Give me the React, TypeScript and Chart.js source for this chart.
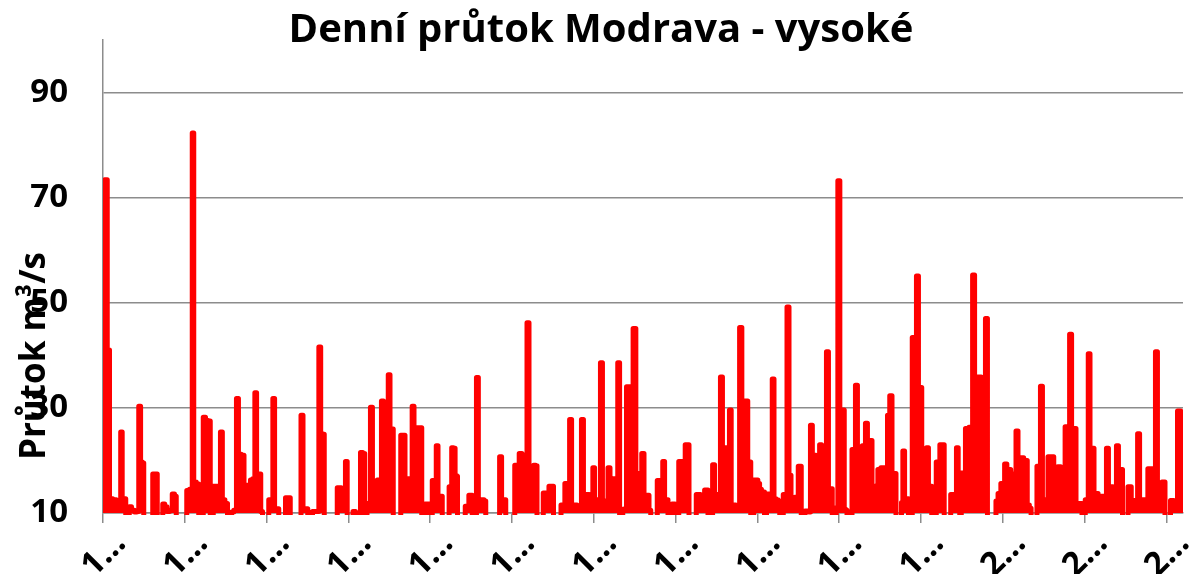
import React, { useEffect, useRef } from 'react';
import { Chart, registerables } from 'chart.js';

Chart.register(...registerables);

const chartTitle = 'Denní průtok Modrava - vysoké';
const yAxisTitle = 'Průtok m³/s';
const yTickValues = [10, 30, 50, 70, 90];
const xTickLabels = ['1…', '1…', '1…', '1…', '1…', '1…', '1…', '1…', '1…', '1…', '1…', '2…', '2…', '2…'];
const X_TICK_STEP = 81.8;
const X_MAX = 1080;
const Y_MIN = 10;
const Y_MAX = 100;

// [position along the record, daily flow m3/s]
const flowPoints: Array<[number, number]> = [
  [0,22.5],[3,73.4],[5.5,41],[7.5,12.7],[12,12.5],[14.5,10.8],[17,10.5],[18.4,25.4],[20,12.7],[22,12.7],[23.5,5],
  [25.5,5],[27,11.2],[30,10.5],[33,10.2],[34.8,10.3],[36.7,30.3],[38.5,19.7],[40,19.5],[41.5,5],
  [49,5],[50.5,17.4],[53.5,17.4],[55,5],
  [59,5],[60.5,11.7],[63,11.2],[65,10.3],[68,10.5],[70.5,13.6],[72.5,13.2],[74,5],
  [83,5],[84.5,14.3],[88.5,14.5],[90,82.3],[91.5,15.9],[95,15.5],[96.5,5],
  [99.5,5],[101,28.2],[104,27.6],[106.5,27.5],[108,5],
  [109.5,5],[111,15.1],[113.5,15.1],[116.5,15.1],[118.4,25.4],[120.3,12.5],[123.5,11.8],[125.5,5],
  [128,5],[129,10.2],[132.5,10.5],[134.4,31.8],[136.5,21.2],[140,21],[142,15.3],[145,15.3],[146.5,10.5],[148.4,16.3],[151,16.5],[152.7,32.9],[154.5,17.4],[157,17.4],[158.5,10.3],[160.5,5],
  [165,5],[166.5,12.5],[169,12.5],[170.7,31.8],[172.5,10.8],[175,10.8],[176.5,5],
  [182,5],[183,12.9],[186.5,12.9],[188,5],
  [197,5],[199,28.6],[201,10.8],[204,10.8],[205.5,5],
  [209,5],[210,10.3],[215,10.3],[216.7,41.6],[218.7,25.1],[220.5,25],[222,5],
  [233.5,5],[235,14.8],[237.5,14.8],[239,12.4],[241.5,12.4],[243.4,19.8],[245,5],
  [249.5,5],[250.5,10.3],[252,10.3],[253,5],
  [256.5,5],[258.5,21.5],[261,21.3],[262.5,5],
  [263.5,5],[264.5,11.8],[266.5,11.8],[268.4,30.1],[270.5,11.8],[273.5,11.8],[275,16.3],[277.5,16.3],[279.4,31.3],[281.5,14],[284.5,14],[286,36.3],[288,26],[289.5,26],[291,5],
  [297,5],[298.5,24.8],[301,24.8],[303,16.5],[308.3,16.5],[310,30.3],[312,26.2],[318,26.2],[319.5,5],
  [321.5,5],[322.5,11.7],[325.5,11.7],[327,5],
  [328.5,5],[330,16.2],[332.5,16.2],[334,22.8],[336,13.2],[338.5,13.2],[340,5],
  [345.5,5],[346.7,15],[348,15],[349.4,22.4],[351.5,22.3],[352.7,17.2],[354,17],[355,5],
  [361.5,5],[363,11.3],[365,11.3],[366.7,13.4],[368.5,13.4],[370,5],
  [372.5,5],[374.4,35.8],[376.3,12.4],[380,12.5],[382,12.3],[383.5,5],
  [395.5,5],[397.7,20.7],[399.5,12.5],[402,12.5],[403.5,5],
  [411,5],[412.5,19.1],[415,19.1],[417.4,21.3],[420.5,21],[423,16],[425,46.2],[427,15.9],[429.5,15.9],[431.7,19.1],[433.5,19],[434.5,5],
  [439.5,5],[441,13.8],[444.5,13.8],[447.4,15.1],[450,15.1],[451,5],
  [457.5,5],[458.5,11.5],[461,11.5],[462.7,15.6],[465.5,15.6],[467.7,27.8],[469.5,11.5],[473,11.5],[475,10.8],[477.5,10.8],[479.4,27.8],[481.5,13.5],[485,13.5],[487.5,13],[489,13],[490.7,18.6],[492.5,12.5],[496.5,12.5],[498.4,38.6],[500.5,12.3],[504,12.3],[506,18.6],[508,12.5],[511.5,16.5],[513.8,16.5],[515.7,38.6],[517.5,5],
  [519,5],[520.5,10.7],[523,10.8],[524,34],[528.5,34],[531.7,45.1],[534,17.5],[537.5,17.5],[540,21.3],[542,13.4],[545,13.4],[547,10.5],[548.5,5],
  [553.5,5],[555,16.2],[558.8,16.2],[560.7,19.8],[562.5,12.5],[564.5,12.5],[565.5,5],
  [568.5,5],[569.5,11.7],[571.5,11.7],[572.5,5],
  [575,5],[576.5,19.8],[581,19.8],[583.4,23],[585.5,23],[586.5,5],
  [592.5,5],[594,13.5],[596.5,13.5],[598.4,10.6],[600.5,10.6],[602.7,14.4],[604.5,14.4],[605.5,5],
  [608.5,5],[610.7,19.2],[612.5,13.5],[614.5,13.5],[616.5,13],[618.4,35.9],[620.5,22.4],[625.5,22.4],[627.4,29.6],[629,11.5],[632,11.5],[633.5,10.5],[635.5,10.5],[637.7,45.3],[640,31.3],[644,31.3],[645.5,19.7],[647,19.7],[648.5,5],
  [650,5],[651.5,16.3],[654,16.3],[655.7,15.6],[657.5,14.5],[659.4,14],[661,14],[662,5],
  [663,5],[664,13.6],[668.5,13.6],[670,35.5],[672,12.7],[674,12.5],[676,12.3],[677.5,5],
  [679.5,5],[681,13.5],[683,13.5],[685,49.2],[687,17.2],[689,12.3],[691,12.3],[692.7,13],[694.5,13],[696,18.9],[697.5,18.9],[699,5],
  [701.5,5],[702.5,10.4],[705,10.4],[706.5,10.2],[708.4,26.7],[710.3,21],[712.3,21],[713.5,18.4],[715.5,18.4],[717.7,23],[719.5,15.5],[722.5,15.5],[724.4,40.7],[726.5,14.6],[728.5,14.6],[730,5],
  [732.5,5],[734,11],[735.7,73.2],[738,29.6],[740.5,29.6],[742,10.7],[743.5,10.5],[744.5,5],
  [748.5,5],[749.5,22.1],[751.5,22.1],[753.4,34.3],[755.5,21.6],[758.5,21.6],[760,22.8],[761.5,22.8],[763.4,27.1],[765.5,23.8],[768,23.8],[770,15.1],[771.5,15.1],[772.7,10.8],[774,10.8],[775.7,18.3],[780,18.6],[783.5,18.6],[785.5,28.6],[788,32.3],[790,17.5],[792.5,17.5],[793.5,5],
  [798,5],[799,12],[800.7,21.8],[802.5,12.7],[805,12.7],[806,5],
  [808.5,5],[810,43.4],[812.5,43.4],[814.4,55.1],[816.5,33.9],[818,33.9],[819.5,15.9],[822.5,16.5],[824.4,22.4],[826.5,15.1],[828,15.1],[829.5,5],
  [832.5,5],[834,19.7],[836,19.7],[837.7,23],[840.4,23],[842,5],
  [847,5],[848.4,13.5],[852.5,13.5],[854.4,22.4],[856,12],[857.5,5],
  [859,17.6],[861.5,17.6],[863.4,26.1],[868.5,26.3],[870.7,55.3],[872.5,35.9],[877.4,35.9],[879,28.6],[881.5,28.6],[883.4,47],[885.5,5],
  [892.5,5],[893.4,12.3],[896.7,13.7],[899,15.6],[900.5,15.6],[902.7,19.3],[905,18.3],[907,18.3],[908.4,14.6],[910,17.4],[912,17.4],[914,25.6],[916,20.5],[919,20.5],[922.4,20],[923.5,20],[925,11.5],[927.7,10.9],[928.5,5],
  [933.5,5],[934.4,18.9],[936.5,18.9],[938.4,34.1],[940.5,12.5],[944,12.5],[946,20.7],[950,20.7],[951.5,16.2],[953.5,16.2],[956,18.8],[959.4,18.6],[961.5,18.6],[962.7,26.4],[965.5,26.4],[967.7,44],[969.5,26.1],[972.5,26.1],[973.5,11.8],[978.5,11.8],[979.5,5],
  [981.5,5],[983,12.5],[984.5,12.5],[986,40.3],[988,22.3],[990.5,22.3],[991.5,13.7],[993.5,13.7],[996.7,13],[1000,13.2],[1002.5,13.2],[1004.4,22.3],[1006.5,15],[1009,15],[1011,12.8],[1012.5,12.8],[1014.4,22.8],[1016.5,18.3],[1019,18.3],[1020,5],
  [1024.5,5],[1025.5,15],[1027.5,15],[1029,12.4],[1033.5,12.4],[1035.7,25.1],[1037.5,12.5],[1044,12.5],[1045.7,18.4],[1051.5,18.4],[1053.4,40.7],[1055.5,10.8],[1058,10.8],[1060,15.9],[1061.5,15.9],[1062.5,5],
  [1067,5],[1068,12.4],[1070,12.4],[1071.5,10.8],[1073.5,10.8],[1075.5,29.4],[1077,29.4],[1078.5,15.3],[1080,15.3],
];

const FONT = '"Open Sans", "DejaVu Sans", sans-serif';
const GRID_COLOR = '#8c8c8c';

export default function App() {
  const ref = useRef<HTMLCanvasElement | null>(null);

  useEffect(() => {
    const canvas = ref.current;
    if (!canvas) return;

    const textPlugin = {
      id: 'customTexts',
      afterDraw(chart: any) {
        const ctx = chart.ctx as CanvasRenderingContext2D;
        ctx.save();
        ctx.fillStyle = '#000';
        ctx.textBaseline = 'alphabetic';

        ctx.font = `bold 40px ${FONT}`;
        ctx.textAlign = 'center';
        ctx.fillText(chartTitle, 601, 42);

        ctx.save();
        ctx.translate(45, 356);
        ctx.rotate(-Math.PI / 2);
        ctx.font = `bold 35px ${FONT}`;
        ctx.textAlign = 'center';
        ctx.fillText(yAxisTitle, 0, 0);
        ctx.restore();

        const xs = chart.scales.x;
        ctx.font = `bold 33px ${FONT}`;
        ctx.textAlign = 'left';
        xs.ticks.forEach((t: any, i: number) => {
          const px = xs.getPixelForValue(t.value);
          ctx.save();
          ctx.translate(px - 9, 578);
          ctx.rotate(-Math.PI / 4);
          ctx.fillText(xTickLabels[i] ?? '', 0, 0);
          ctx.restore();
        });
        ctx.restore();
      },
    };

    const chart = new Chart(canvas, {
      type: 'line',
      data: {
        datasets: [
          {
            label: 'Průtok',
            data: flowPoints.map(([x, y]) => ({ x, y })),
            borderColor: '#ff0000',
            backgroundColor: '#ff0000',
            fill: 'start',
            borderWidth: 5,
            pointRadius: 0,
            tension: 0,
            stepped: 'middle',
            borderJoinStyle: 'round',
            borderCapStyle: 'round',
            clip: { left: 0, top: 0, right: 0, bottom: 2 } as any,
          },
        ],
      },
      options: {
        animation: false,
        responsive: false,
        devicePixelRatio: 1,
        layout: { padding: { top: 40, right: 13, bottom: 0, left: 0 } },
        plugins: {
          legend: { display: false },
          title: { display: false },
          tooltip: { enabled: false },
          filler: { propagate: false },
        },
        scales: {
          x: {
            type: 'linear',
            min: 0,
            max: X_MAX,
            afterBuildTicks: (scale: any) => {
              scale.ticks = xTickLabels.map((_, i) => ({ value: i * X_TICK_STEP }));
            },
            afterFit: (scale: any) => {
              scale.height = 61;
            },
            ticks: { display: false },
            grid: {
              display: true,
              drawOnChartArea: false,
              drawTicks: true,
              tickLength: 10,
              color: GRID_COLOR,
              lineWidth: 1.5,
            },
            border: { display: true, color: GRID_COLOR, width: 1.5 },
          },
          y: {
            type: 'linear',
            min: Y_MIN,
            max: Y_MAX,
            afterBuildTicks: (scale: any) => {
              scale.ticks = yTickValues.map((v) => ({ value: v }));
            },
            afterFit: (scale: any) => {
              scale.width = 103;
            },
            ticks: {
              color: '#000',
              padding: 0,
              font: { family: FONT, size: 33, weight: 'bold' },
            },
            grid: {
              display: true,
              drawTicks: true,
              tickLength: 35,
              tickColor: 'rgba(0,0,0,0)',
              color: GRID_COLOR,
              lineWidth: 1.5,
            },
            border: { display: true, color: GRID_COLOR, width: 1.5 },
          },
        },
      } as any,
      plugins: [textPlugin],
    });

    return () => chart.destroy();
  }, []);

  return (
    <div style={{ position: 'absolute', left: 0, top: 0, width: 1196, height: 574, background: '#fff' }}>
      <canvas ref={ref} width={1196} height={574} style={{ display: 'block' }} />
    </div>
  );
}
